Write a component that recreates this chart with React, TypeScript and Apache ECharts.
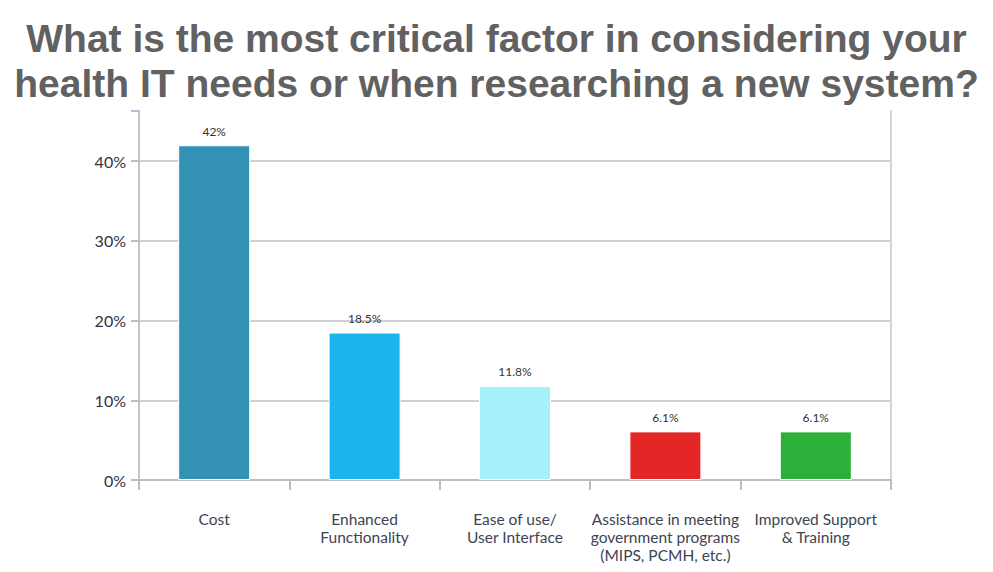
import React, { useEffect, useRef } from "react";
import * as echarts from "echarts";

const categories = [
  "Cost",
  "Enhanced\nFunctionality",
  "Ease of use/\nUser Interface",
  "Assistance in meeting\ngovernment programs\n(MIPS, PCMH, etc.)",
  "Improved Support\n& Training",
];
const values = [42, 18.5, 11.8, 6.1, 6.1];
const barColors = ["#3291B4", "#1BB4EC", "#A7F2FA", "#E52626", "#2BB03A"];
const titleLines = [
  "What is the most critical factor in considering your",
  "health IT needs or when researching a new system?",
];
const yMax = 46.3;
const yInterval = 10;

export default function App() {
  const ref = useRef<HTMLDivElement>(null);
  useEffect(() => {
    if (!ref.current) return;
    const chart = echarts.init(ref.current, undefined, { renderer: "svg" });
    const titleStyle = {
      fontFamily: "Liberation Sans",
      fontWeight: "bold",
      fontSize: 39,
      lineHeight: 44,
      color: "#616161",
    };
    chart.setOption({
      animation: false,
      backgroundColor: "#ffffff",
      title: titleLines.map((t, i) => ({
        text: t,
        left: "center",
        top: 16 + i * 45,
        padding: 0,
        textStyle: titleStyle,
      })),
      grid: { left: 139, right: 102, top: 111, bottom: 92, containLabel: false },
      xAxis: {
        type: "category",
        data: categories,
        axisLine: { show: true, lineStyle: { color: "#b9bec7", width: 2 } },
        axisTick: { show: true, length: 10, lineStyle: { color: "#b9bec7", width: 2 } },
        axisLabel: {
          interval: 0,
          margin: 30,
          fontFamily: "Lato",
          fontSize: 15.5,
          lineHeight: 18,
          color: "#3d4453",
        },
      },
      yAxis: [
        {
          type: "value",
          min: 0,
          max: yMax,
          interval: yInterval,
          axisLine: { show: true, lineStyle: { color: "#c3c7cc", width: 2 } },
          axisTick: { show: true, length: 8, lineStyle: { color: "#b9bec7", width: 2 } },
          axisLabel: {
            margin: 13,
            fontFamily: "Lato",
            fontSize: 16,
            color: "#2f3440",
            formatter: (v: number) => (v % yInterval === 0 ? `${v}%` : ""),
          },
          splitLine: {
            show: true,
            lineStyle: {
              color: ["#d0d0d0", "#d0d0d0", "#d0d0d0", "#d0d0d0", "#d0d0d0", "rgba(0,0,0,0)"],
              width: 2,
            },
          },
        },
        {
          type: "value",
          min: 0,
          max: yMax,
          position: "right",
          axisLine: { show: true, lineStyle: { color: "#d4d4d4", width: 2 } },
          axisTick: { show: false },
          axisLabel: { show: false },
          splitLine: { show: false },
        },
      ],
      series: [
        {
          type: "bar",
          barWidth: 72,
          data: values.map((v, i) => ({
            value: v,
            itemStyle: { color: barColors[i], borderColor: "#ffffff", borderWidth: 1 },
          })),
          label: {
            show: true,
            position: "top",
            distance: 8,
            fontFamily: "Lato",
            fontSize: 12,
            color: "#333333",
            formatter: (p: any) => `${p.value}%`,
          },
        },
      ],
    });
    return () => chart.dispose();
  }, []);
  return (
    <div
      ref={ref}
      style={{ position: "fixed", left: 0, top: 0, width: 993, height: 572 }}
    />
  );
}
